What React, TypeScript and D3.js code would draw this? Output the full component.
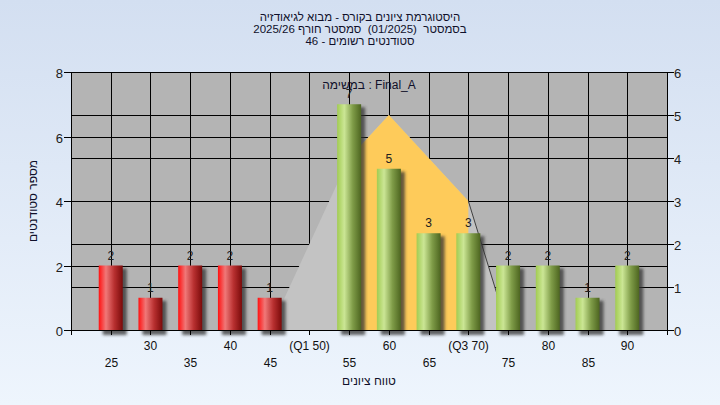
import * as d3 from 'd3';
import { useEffect, useRef } from 'react';

// grade bins and student counts per bin
const grades = [25, 30, 35, 40, 45, 50, 55, 60, 65, 70, 75, 80, 85, 90];
const counts = [2, 1, 2, 2, 1, 0, 7, 5, 3, 3, 2, 2, 1, 2];
const tickLabels = ['25', '30', '35', '40', '45', '(Q1 50)', '55', '60', '65', '(Q3 70)', '75', '80', '85', '90'];

// distribution outline (right axis)
const distGrades = [45, 55, 60, 70, 75];
const distValues = [0, 4, 5, 3, 0];
// interquartile highlight (right axis)
const iqrGrades = [55, 55, 60, 70, 70];
const iqrValues = [0, 4, 5, 3, 0];

const leftTicks = [0, 2, 4, 6, 8];
const rightTicks = [0, 1, 2, 3, 4, 5, 6];

const titleLines = [
  'היסטוגרמת ציונים בקורס - מבוא לגיאודזיה',
  'בסמסטר  (01/2025)  סמסטר חורף 2025/26',
  'סטודנטים רשומים - 46',
];

const W = 720;
const H = 405;
const left = 71;
const right = 667;
const top = 72;
const bottom = 330;
const FONT = '"Liberation Sans", Arial, sans-serif';

const App = () => {
  const svgRef = useRef<SVGSVGElement>(null);

  useEffect(() => {
    const svg = d3.select(svgRef.current);
    svg.selectAll('*').remove();

    const x = d3.scaleLinear().domain([20, 95]).range([left, right]);
    const yL = d3.scaleLinear().domain([0, 8]).range([bottom, top]);
    const yR = d3.scaleLinear().domain([0, 6]).range([bottom, top]);

    const defs = svg.append('defs');
    const bg = defs.append('linearGradient').attr('id', 'bg').attr('x1', 0).attr('y1', 0).attr('x2', 0).attr('y2', 1);
    bg.append('stop').attr('offset', '0%').attr('stop-color', '#d3dff1');
    bg.append('stop').attr('offset', '100%').attr('stop-color', '#eef5fd');

    const red = defs.append('linearGradient').attr('id', 'red');
    red.append('stop').attr('offset', '0%').attr('stop-color', '#ff1010');
    red.append('stop').attr('offset', '30%').attr('stop-color', '#f07878');
    red.append('stop').attr('offset', '65%').attr('stop-color', '#b83030');
    red.append('stop').attr('offset', '100%').attr('stop-color', '#7a0a0a');

    const green = defs.append('linearGradient').attr('id', 'green');
    green.append('stop').attr('offset', '0%').attr('stop-color', '#a2cc52');
    green.append('stop').attr('offset', '30%').attr('stop-color', '#cbe695');
    green.append('stop').attr('offset', '65%').attr('stop-color', '#7f9c48');
    green.append('stop').attr('offset', '100%').attr('stop-color', '#4d6520');

    const blur = defs.append('filter').attr('id', 'shadow').attr('x', '-50%').attr('y', '-20%').attr('width', '200%').attr('height', '140%');
    blur.append('feGaussianBlur').attr('stdDeviation', 1.6);

    svg.append('rect').attr('width', W).attr('height', H).attr('fill', 'url(#bg)');

    // plot area
    svg.append('rect')
      .attr('x', left).attr('y', top)
      .attr('width', right - left).attr('height', bottom - top)
      .attr('fill', '#b4b4b4');

    // grid
    const grid = svg.append('g').attr('stroke', '#000').attr('stroke-width', 1);
    leftTicks.forEach(v => {
      grid.append('line').attr('x1', left).attr('x2', right)
        .attr('y1', Math.round(yL(v)) + 0.5).attr('y2', Math.round(yL(v)) + 0.5);
    });
    rightTicks.forEach(v => {
      grid.append('line').attr('x1', left).attr('x2', right)
        .attr('y1', Math.round(yR(v)) + 0.5).attr('y2', Math.round(yR(v)) + 0.5);
    });
    grades.forEach(g => {
      grid.append('line').attr('y1', top).attr('y2', bottom)
        .attr('x1', Math.round(x(g)) + 0.5).attr('x2', Math.round(x(g)) + 0.5);
    });

    // distribution areas
    const line = d3.line<number>().x((_, i) => x(distGrades[i])).y(d => yR(d));
    svg.append('path').attr('d', line(distValues) + 'Z').attr('fill', '#c3c3c3');
    const iqr = d3.line<number>().x((_, i) => x(iqrGrades[i])).y(d => yR(d));
    svg.append('path').attr('d', iqr(iqrValues) + 'Z').attr('fill', '#fecb5a');
    svg.append('line')
      .attr('x1', x(distGrades[3])).attr('y1', yR(distValues[3]))
      .attr('x2', x(distGrades[4])).attr('y2', yR(distValues[4]))
      .attr('stroke', '#404040').attr('stroke-width', 1);

    // bars
    const bw = 24;
    const bars = svg.append('g');
    grades.forEach((g, i) => {
      const c = counts[i];
      if (c <= 0) return;
      const x0 = x(g) - bw / 2;
      const y0 = yL(c);
      bars.append('rect')
        .attr('x', x0 + 4).attr('y', y0 + 3)
        .attr('width', bw).attr('height', bottom - y0 + 2)
        .attr('fill', '#303030').attr('opacity', 0.75)
        .attr('filter', 'url(#shadow)');
    });
    grades.forEach((g, i) => {
      const c = counts[i];
      if (c <= 0) return;
      const x0 = x(g) - bw / 2;
      const y0 = yL(c);
      bars.append('rect')
        .attr('x', x0).attr('y', y0)
        .attr('width', bw).attr('height', bottom - y0)
        .attr('fill', g < 50 ? 'url(#red)' : 'url(#green)');
      bars.append('text')
        .attr('x', x(g)).attr('y', y0 - 6)
        .attr('text-anchor', 'middle')
        .attr('font-family', FONT).attr('font-size', 12)
        .attr('fill', '#202020')
        .text(c);
    });

    // axes lines
    const axes = svg.append('g').attr('stroke', '#000').attr('stroke-width', 1);
    axes.append('line').attr('x1', left + 0.5).attr('x2', left + 0.5).attr('y1', top).attr('y2', bottom + 5);
    axes.append('line').attr('x1', right + 0.5).attr('x2', right + 0.5).attr('y1', top).attr('y2', bottom + 5);
    axes.append('line').attr('x1', left).attr('x2', right + 1).attr('y1', bottom + 0.5).attr('y2', bottom + 0.5);

    leftTicks.forEach(v => {
      const yy = Math.round(yL(v)) + 0.5;
      axes.append('line').attr('x1', left - 7).attr('x2', left).attr('y1', yy).attr('y2', yy);
      svg.append('text').attr('x', left - 8).attr('y', yy + 5)
        .attr('text-anchor', 'end').attr('font-family', FONT).attr('font-size', 13)
        .attr('fill', '#202020').text(v);
    });
    rightTicks.forEach(v => {
      const yy = Math.round(yR(v)) + 0.5;
      axes.append('line').attr('x1', right).attr('x2', right + 7).attr('y1', yy).attr('y2', yy);
      svg.append('text').attr('x', right + 7).attr('y', yy + 5)
        .attr('text-anchor', 'start').attr('font-family', FONT).attr('font-size', 13)
        .attr('fill', '#202020').text(v);
    });
    grades.forEach((g, i) => {
      const xx = Math.round(x(g)) + 0.5;
      axes.append('line').attr('x1', xx).attr('x2', xx).attr('y1', bottom).attr('y2', bottom + 5);
      svg.append('text').attr('x', xx).attr('y', i % 2 === 1 ? 350 : 367)
        .attr('text-anchor', 'middle').attr('font-family', FONT).attr('font-size', 12)
        .attr('fill', '#101010').text(tickLabels[i]);
    });

    // titles
    titleLines.forEach((t, i) => {
      svg.append('text').attr('x', 360).attr('y', 21 + i * 12)
        .attr('text-anchor', 'middle').attr('font-family', FONT).attr('font-size', 11.5)
        .style('white-space', 'pre')
        .attr('fill', '#10102a').text(t);
    });
    svg.append('text').attr('x', 369).attr('y', 89)
      .attr('text-anchor', 'middle').attr('font-family', FONT).attr('font-size', 12)
      .attr('fill', '#10102a').text('במשימה : Final_A');
    svg.append('text').attr('x', (left + right) / 2).attr('y', 385)
      .attr('text-anchor', 'middle').attr('font-family', FONT).attr('font-size', 12)
      .attr('fill', '#10102a').text('טווח ציונים');
    svg.append('text')
      .attr('transform', `translate(37, ${(top + bottom) / 2}) rotate(-90)`)
      .attr('text-anchor', 'middle').attr('font-family', FONT).attr('font-size', 12)
      .attr('fill', '#10102a').text('מספר סטודנטים');
  }, []);

  return (
    <div style={{ position: 'fixed', left: 0, top: 0 }}>
      <svg ref={svgRef} width={W} height={H} style={{ display: 'block' }}></svg>
    </div>
  );
};

export default App;
